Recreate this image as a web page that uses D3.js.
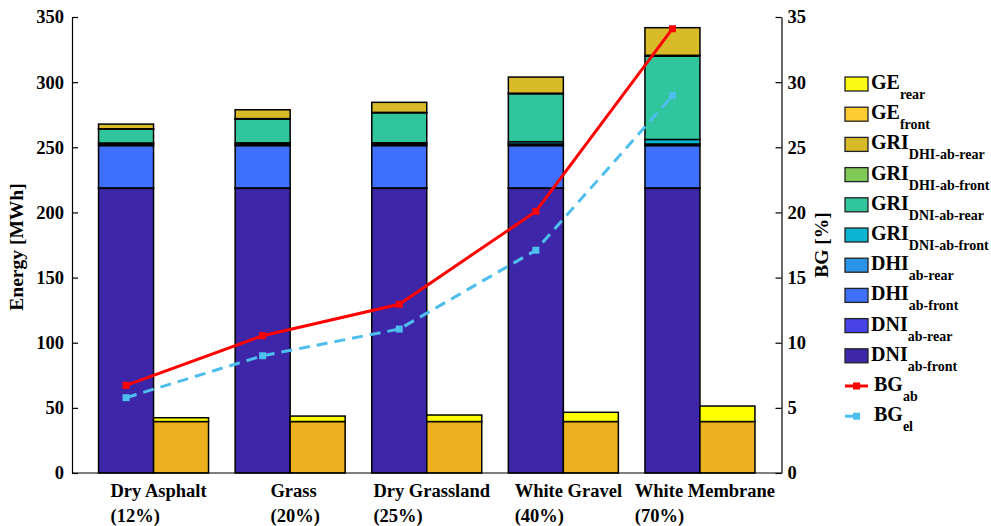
<!DOCTYPE html>
<html>
<head>
<meta charset="utf-8">
<script src="https://cdn.jsdelivr.net/npm/d3@7"></script>
<style>
  body { margin: 0; background: #fff; }
  text { font-family: "Liberation Serif", "Times New Roman", serif; font-weight: bold; fill: #000; }
</style>
</head>
<body>
<svg id="chart" width="991" height="526"></svg>
<script>
// Ground surfaces and their albedo
const categories = ["Dry Asphalt", "Grass", "Dry Grassland", "White Gravel", "White Membrane"];
const albedoLabels = ["(12%)", "(20%)", "(25%)", "(40%)", "(70%)"];

// Absorbed energy components [MWh], stacked bottom to top
const dniAbFront    = [218.5, 218.5, 218.5, 218.5, 218.5];
const dniAbRear     = [0.3, 0.3, 0.3, 0.3, 0.3];
const dhiAbFront    = [32.5, 32.5, 32.5, 32.5, 32.5];
const dhiAbRear     = [1.2, 1.2, 1.2, 1.2, 1.2];
const griDniAbFront = [0.8, 0.9, 1.0, 1.8, 3.5];
const griDniAbRear  = [10.7, 18.3, 23.0, 36.8, 64.0];
const griDhiAbFront = [0.2, 0.3, 0.3, 0.4, 0.6];
const griDhiAbRear  = [3.6, 6.8, 7.7, 12.4, 21.2];

// Generated energy [MWh]
const geFront = [39.5, 39.5, 39.5, 39.5, 39.5];
const geRear  = [2.9, 4.2, 5.0, 7.1, 11.9];

// Bifacial gain [%]
const bgAb = [6.73, 10.54, 12.95, 20.08, 34.1];
const bgEl = [5.78, 9.0, 11.05, 17.1, 28.96];

const energyTicks = [0, 50, 100, 150, 200, 250, 300, 350];
const bgTicks = [0, 5, 10, 15, 20, 25, 30, 35];

const absorbedSeries = [
  { key: "dniAbFront",    values: dniAbFront,    color: "#3e26a8", main: "DNI", sub: "ab-front" },
  { key: "dniAbRear",     values: dniAbRear,     color: "#4743e6", main: "DNI", sub: "ab-rear" },
  { key: "dhiAbFront",    values: dhiAbFront,    color: "#3e6ffd", main: "DHI", sub: "ab-front" },
  { key: "dhiAbRear",     values: dhiAbRear,     color: "#2c94e8", main: "DHI", sub: "ab-rear" },
  { key: "griDniAbFront", values: griDniAbFront, color: "#0bb4d0", main: "GRI", sub: "DNI-ab-front" },
  { key: "griDniAbRear",  values: griDniAbRear,  color: "#30c59d", main: "GRI", sub: "DNI-ab-rear" },
  { key: "griDhiAbFront", values: griDhiAbFront, color: "#82ca58", main: "GRI", sub: "DHI-ab-front" },
  { key: "griDhiAbRear",  values: griDhiAbRear,  color: "#d9bb2a", main: "GRI", sub: "DHI-ab-rear" }
];
const generatedSeries = [
  { key: "geFront", values: geFront, color: "#edb120", legendColor: "#fccc30", main: "GE", sub: "front" },
  { key: "geRear",  values: geRear,  color: "#ffff00", legendColor: "#fafa12", main: "GE", sub: "rear" }
];

const svg = d3.select("#chart");
const plotLeft = 72, plotRight = 781.5, plotTop = 17, plotBottom = 473;

const x = d3.scalePoint().domain(categories).range([plotLeft, plotRight]).padding(0.597);
const barW = 55;
const yE = d3.scaleLinear().domain([0, 350]).range([plotBottom, plotTop]);
const yB = d3.scaleLinear().domain([0, 35]).range([plotBottom, plotTop]);

function stackRows(series) {
  const rows = categories.map((c, i) => {
    const r = { cat: c };
    series.forEach(s => r[s.key] = s.values[i]);
    return r;
  });
  return d3.stack().keys(series.map(s => s.key))(rows);
}

function drawStack(series, offset) {
  const stacked = stackRows(series);
  stacked.forEach((layer, li) => {
    svg.append("g").selectAll("rect").data(layer).join("rect")
      .attr("x", d => x(d.data.cat) + offset)
      .attr("width", barW)
      .attr("y", d => yE(d[1]))
      .attr("height", d => yE(d[0]) - yE(d[1]))
      .attr("fill", series[li].color)
      .attr("stroke", "#000")
      .attr("stroke-width", 1.5);
  });
}
drawStack(absorbedSeries, -barW);
drawStack(generatedSeries, 0);

// Axes
const axL = svg.append("g").attr("transform", `translate(${plotLeft},0)`)
  .call(d3.axisLeft(yE).tickValues(energyTicks).tickSizeInner(-6).tickSizeOuter(0).tickPadding(8));
const axR = svg.append("g").attr("transform", `translate(${plotRight},0)`)
  .call(d3.axisRight(yB).tickValues(bgTicks).tickSizeInner(-6).tickSizeOuter(0).tickPadding(6));
[axL, axR].forEach(a => {
  a.select(".domain").attr("stroke", "#000").attr("stroke-width", 1.2);
  a.selectAll(".tick line").attr("stroke", "#000").attr("stroke-width", 1.2);
  a.selectAll(".tick text").attr("font-size", 18.5).attr("font-family", null).attr("fill", "#000");
});
svg.append("line").attr("x1", plotLeft).attr("x2", plotRight).attr("y1", plotBottom).attr("y2", plotBottom)
  .attr("stroke", "#000").attr("stroke-width", 1.2);

// Category labels (two lines, left-aligned as a block)
const catG = svg.append("g");
categories.forEach((c, i) => {
  const t = catG.append("text").attr("font-size", 18.5);
  const l1 = t.append("tspan").attr("y", 497).text(c);
  const l2 = t.append("tspan").attr("y", 522).text(albedoLabels[i]);
  const w = Math.max(l1.node().getComputedTextLength(), l2.node().getComputedTextLength());
  t.selectAll("tspan").attr("x", x(c) + 5 - w / 2);
});

// Axis titles
svg.append("text").attr("transform", "translate(23,247) rotate(-90)")
  .attr("text-anchor", "middle").attr("font-size", 19.5).text("Energy [MWh]");
svg.append("text").attr("transform", "translate(828,245) rotate(-90)")
  .attr("text-anchor", "middle").attr("font-size", 19.5).text("BG [%]");

// Bifacial gain lines
const lineX = c => x(c) - barW / 2;
const lineGen = d3.line().x((d, i) => lineX(categories[i])).y(d => yB(d));
svg.append("path").datum(bgEl).attr("d", lineGen).attr("fill", "none")
  .attr("stroke", "#4dbeee").attr("stroke-width", 3).attr("stroke-dasharray", "11,7");
svg.append("g").selectAll("rect").data(bgEl).join("rect")
  .attr("x", (d, i) => lineX(categories[i]) - 3.5).attr("y", d => yB(d) - 3.5)
  .attr("width", 7).attr("height", 7).attr("fill", "#4dbeee");
svg.append("path").datum(bgAb).attr("d", lineGen).attr("fill", "none")
  .attr("stroke", "#ff0000").attr("stroke-width", 3);
svg.append("g").selectAll("rect").data(bgAb).join("rect")
  .attr("x", (d, i) => lineX(categories[i]) - 3.5).attr("y", d => yB(d) - 3.5)
  .attr("width", 7).attr("height", 7).attr("fill", "#ff0000");

// Legend
const legendItems = [
  ...generatedSeries.slice().reverse().map(s => ({ type: "box", color: s.legendColor, main: s.main, sub: s.sub })),
  ...absorbedSeries.slice().reverse().map(s => ({ type: "box", color: s.color, main: s.main, sub: s.sub })),
  { type: "line", color: "#ff0000", main: "BG", sub: "ab" },
  { type: "dash", color: "#4dbeee", main: "BG", sub: "el" }
];
const lg = svg.append("g");
legendItems.forEach((it, i) => {
  const cy = 84 + i * 30.2;
  if (it.type === "box") {
    lg.append("rect").attr("x", 845).attr("y", cy - 7).attr("width", 23).attr("height", 14)
      .attr("fill", it.color).attr("stroke", "#222").attr("stroke-width", 1.3);
  } else if (it.type === "line") {
    lg.append("line").attr("x1", 845).attr("x2", 868).attr("y1", cy).attr("y2", cy)
      .attr("stroke", it.color).attr("stroke-width", 3);
    lg.append("rect").attr("x", 853).attr("y", cy - 3.5).attr("width", 7).attr("height", 7).attr("fill", it.color);
  } else {
    lg.append("line").attr("x1", 845).attr("x2", 856).attr("y1", cy).attr("y2", cy)
      .attr("stroke", it.color).attr("stroke-width", 3);
    lg.append("rect").attr("x", 853).attr("y", cy - 3.5).attr("width", 7).attr("height", 7).attr("fill", it.color);
  }
  const tx = it.type === "box" ? 871 : 874;
  const t = lg.append("text").attr("x", tx).attr("y", cy + 5).attr("font-size", 20);
  t.append("tspan").text(it.main);
  t.append("tspan").attr("dy", 10).attr("font-size", 14).text(it.sub);
});
</script>
</body>
</html>
